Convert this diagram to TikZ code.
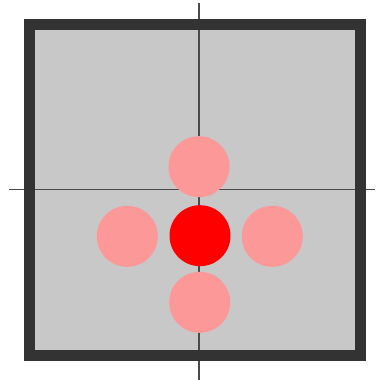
\documentclass[tikz,border=0pt]{standalone}
\definecolor{boxgray}{HTML}{C8C8C8}
\definecolor{framedark}{HTML}{333333}
\definecolor{axisgray}{HTML}{4A4A4A}
\definecolor{pinkdot}{HTML}{FD9898}
\definecolor{reddot}{HTML}{FF0000}
\begin{document}
\begin{tikzpicture}[x=1pt,y=-1pt,
  dot/.style={circle,minimum size=61pt,inner sep=0pt,draw=none},
  axis/.style={draw=axisgray,line width=1.5pt}]
\useasboundingbox (0,0) rectangle (375,380);
\fill[boxgray] (29.7,24.7) rectangle (360.7,355.8);
\coordinate (vt) at (199,3);
\coordinate (vb) at (199,380);
\coordinate (hl) at (9,189.7);
\coordinate (hr) at (375,189.7);
\draw[axis] (vt) -- (vb);
\draw[axis] (hl) -- (hr);
\draw[framedark,line width=11pt] (29.7,24.7) rectangle (360.7,355.8);
\node[dot,fill=pinkdot] (top) at (199,166.7) {};
\node[dot,fill=pinkdot] (left) at (127.3,236.3) {};
\node[dot,fill=pinkdot] (right) at (272.3,236.3) {};
\node[dot,fill=pinkdot] (bottom) at (199.7,302.3) {};
\node[dot,fill=reddot] (center) at (200,235.7) {};
\end{tikzpicture}
\end{document}
